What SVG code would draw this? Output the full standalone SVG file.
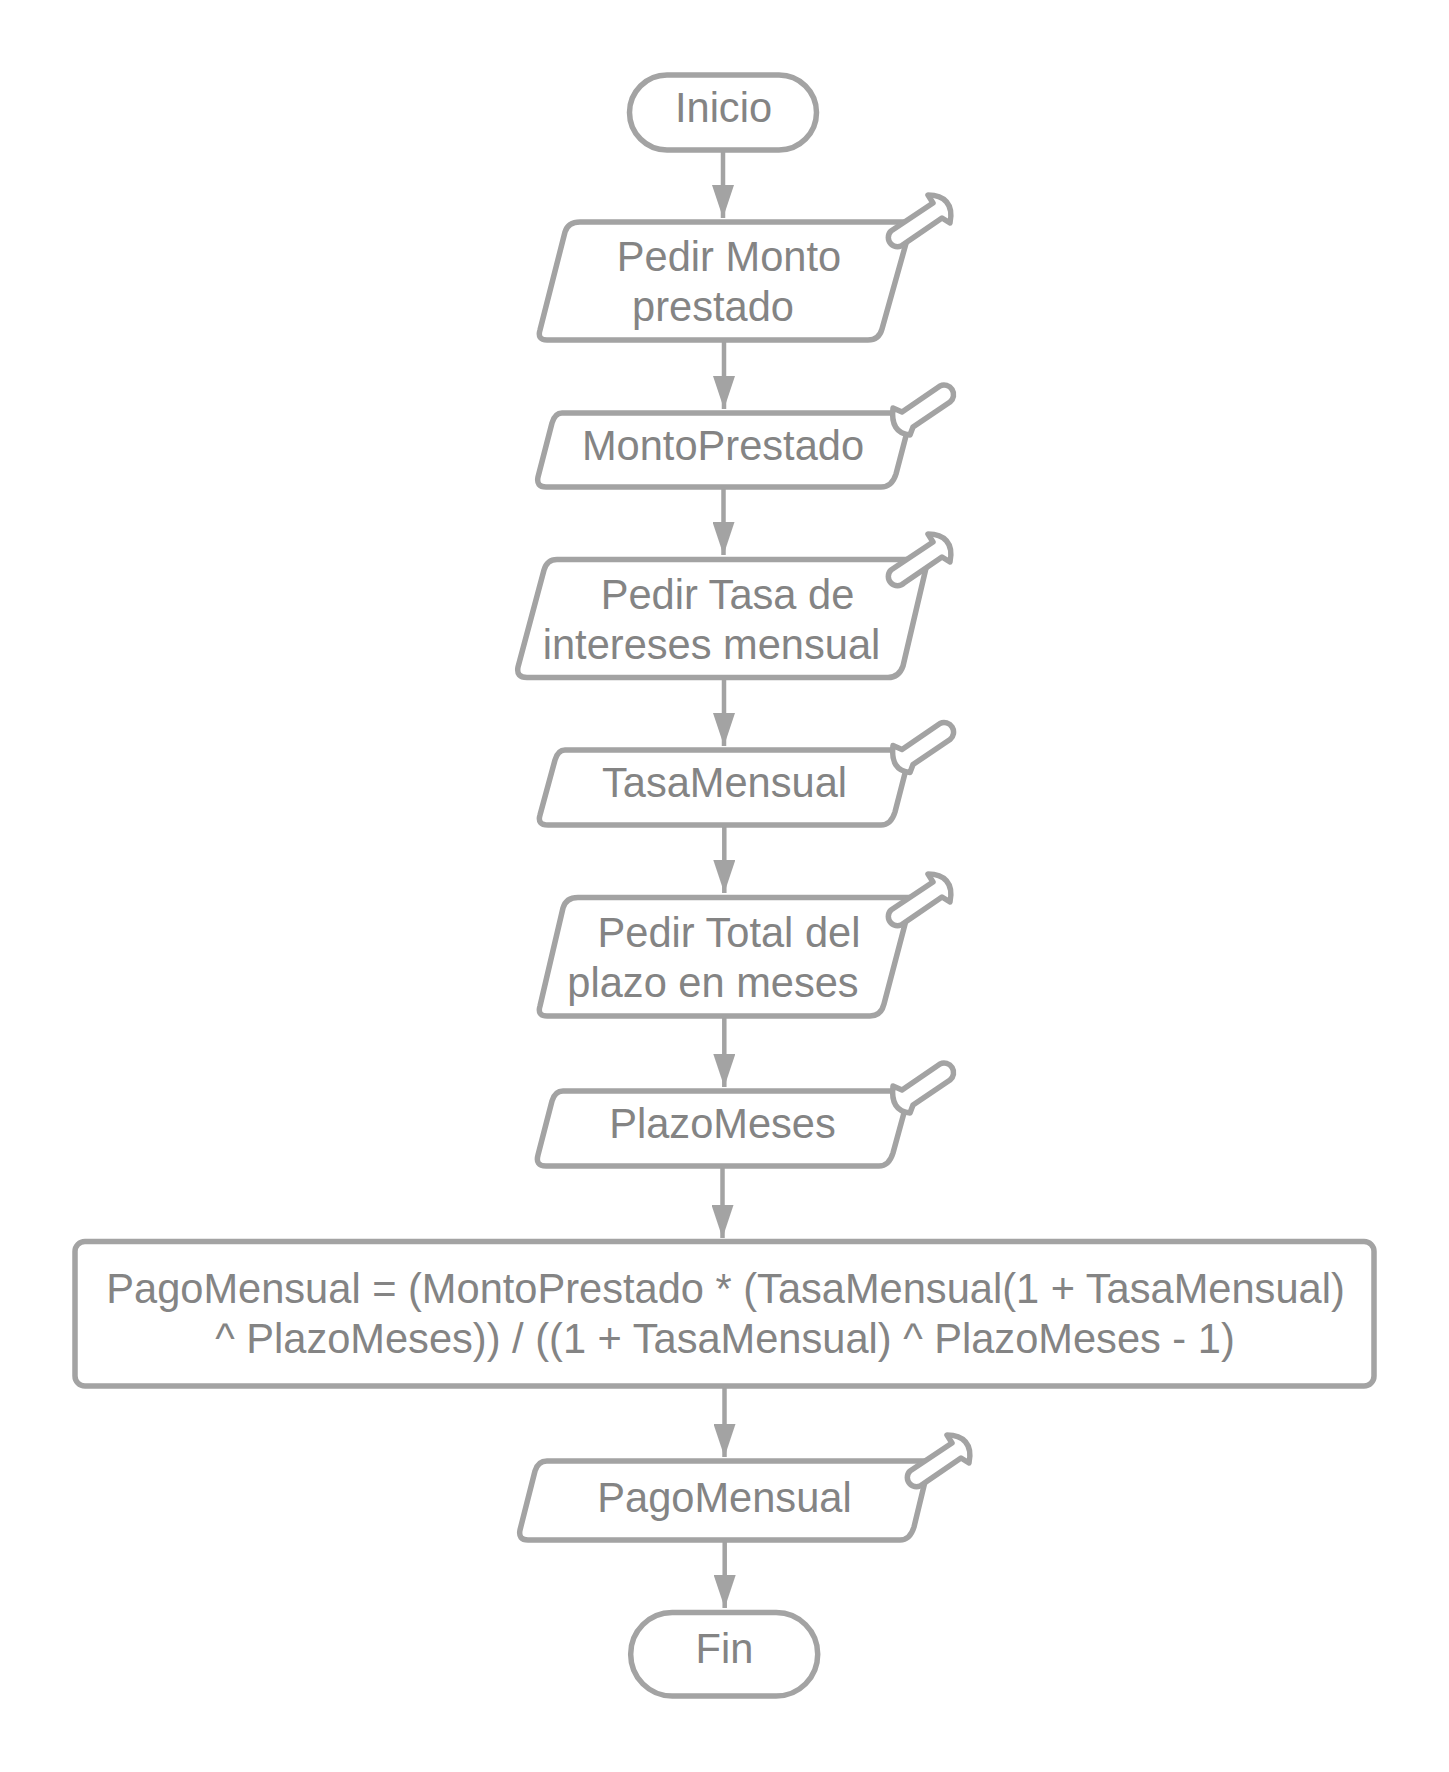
<svg xmlns="http://www.w3.org/2000/svg" width="1449" height="1772" viewBox="0 0 1449 1772">
<style>
.s{fill:#fff;stroke:#a3a3a3;stroke-width:5.5;stroke-linejoin:round}
.n{fill:#fff;stroke:#a3a3a3;stroke-width:5.5;stroke-linejoin:round}
.c{stroke:#a3a3a3;stroke-width:4.500;fill:none}
text{font-family:"Liberation Sans",Arial,sans-serif;font-size:41.6px;fill:#848484;text-anchor:middle}
</style>
<defs>
<marker id="arrow" markerUnits="userSpaceOnUse" markerWidth="33" markerHeight="22" refX="33" refY="11" orient="auto" viewBox="0 0 33 22"><path d="M0,0 L33,11 L0,22 Z" fill="#a3a3a3"/></marker>
<path id="noteA" class="n" d="M891,231 L933,203 L928,195 C944,195 954,204 950,223 L942,218 L904,244 A8.800,8.800 0 0 1 891,231 Z"/>
<path id="noteB" class="n" d="M902,412 L940,386 A9.500,9.500 0 0 1 950,402 L913,427 L910,435 Q890,433 893,408 Z"/>
</defs>
<rect width="1449" height="1772" fill="#fff"/>
<g id="connectors">
<path class="c" d="M723,152 V218" marker-end="url(#arrow)"/>
<path class="c" d="M724,342 V409" marker-end="url(#arrow)"/>
<path class="c" d="M723.500,489 V555" marker-end="url(#arrow)"/>
<path class="c" d="M724,679 V746" marker-end="url(#arrow)"/>
<path class="c" d="M724.300,827 V893" marker-end="url(#arrow)"/>
<path class="c" d="M724.300,1017 V1087" marker-end="url(#arrow)"/>
<path class="c" d="M722.500,1168 V1238" marker-end="url(#arrow)"/>
<path class="c" d="M724.500,1388 V1457" marker-end="url(#arrow)"/>
<path class="c" d="M724.700,1542 V1608" marker-end="url(#arrow)"/>
</g>
<g id="inicio"><rect class="s" x="629.500" y="75" width="187" height="75" rx="37.500"/><text x="723.500" y="122">Inicio</text></g>
<g id="pedir-monto"><path class="s" d="M580,222 H912 L882,329 Q879,340 868,340 H547 Q537,340 540,330 L565,232 Q568,222 580,222 Z"/><use href="#noteA"/><text x="729" y="271">Pedir Monto</text><text x="713" y="321">prestado</text></g>
<g id="monto-prestado"><path class="s" d="M562,413 H912 L896,474 Q892,487 881,487 H546 Q536,487 538,477 L552,423 Q555,413 562,413 Z"/><use href="#noteB"/><text x="723" y="460">MontoPrestado</text></g>
<g id="pedir-tasa"><path class="s" d="M557,559.500 H928 L903,666 Q899,677.500 888,677.500 H527 Q516,677.500 518,667 L544,570 Q547,559.500 557,559.500 Z"/><use href="#noteA" y="339"/><text x="727.500" y="609">Pedir Tasa de</text><text x="711.500" y="659">intereses mensual</text></g>
<g id="tasa-mensual"><path class="s" d="M565,750 H911 L895,812 Q891,825 881,825 H548 Q537,825 540,815 L555,760 Q558,750 565,750 Z"/><use href="#noteB" y="337.500"/><text x="724.500" y="797">TasaMensual</text></g>
<g id="pedir-total"><path class="s" d="M578,897.500 H912 L884,1004 Q881,1016 870,1016 H547 Q537,1016 540,1006 L563,908 Q566,897.500 578,897.500 Z"/><use href="#noteA" y="679"/><text x="729" y="947">Pedir Total del</text><text x="713" y="997">plazo en meses</text></g>
<g id="plazo-meses"><path class="s" d="M563,1091 H910 L893,1153 Q889,1166 879,1166 H546 Q535,1166 538,1155 L552,1101 Q555,1091 563,1091 Z"/><use href="#noteB" y="678"/><text x="722.500" y="1138">PlazoMeses</text></g>
<g id="pago-calc"><rect class="s" x="75" y="1241.500" width="1299" height="144.500" rx="10"/><text x="725.500" y="1303">PagoMensual = (MontoPrestado * (TasaMensual(1 + TasaMensual)</text><text x="725" y="1353">^ PlazoMeses)) / ((1 + TasaMensual) ^ PlazoMeses - 1)</text></g>
<g id="pago-mensual"><path class="s" d="M547,1461 H930 L914,1527 Q910,1540 900,1540 H528 Q518,1540 520,1530 L535,1471 Q538,1461 547,1461 Z"/><use href="#noteA" x="19" y="1240"/><text x="724.500" y="1512">PagoMensual</text></g>
<g id="fin"><rect class="s" x="630.700" y="1612.500" width="187" height="83.500" rx="41.500"/><text x="724.500" y="1663">Fin</text></g>
</svg>
